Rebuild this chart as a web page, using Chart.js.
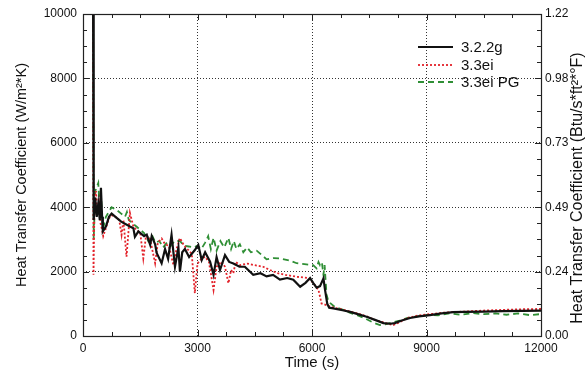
<!DOCTYPE html>
<html>
<head>
<meta charset="utf-8">
<script src="https://cdn.jsdelivr.net/npm/chart.js@4.4.1/dist/chart.umd.min.js"></script>
<style>
    html, body { margin: 0; padding: 0; background: #fff; }
    #wrap { width: 588px; height: 373px; }
</style>
</head>
<body>
<div id="wrap"><canvas id="htc-chart"></canvas></div>
<script>
// time (s) and heat transfer coefficient (W/m2*K)
const time322g = [265, 280, 320, 360, 400, 440, 470, 500, 520, 600, 680, 750, 850, 1000, 1230, 1320, 1360, 1450, 1600, 1670, 1760, 1800, 1890, 1930, 2060, 2150, 2230, 2320, 2410, 2500, 2540, 2600, 2670, 2780, 2930, 3020, 3110, 3200, 3330, 3420, 3500, 3590, 3720, 3830, 3940, 4100, 4240, 4460, 4650, 4810, 4980, 5160, 5350, 5510, 5690, 5830, 5950, 6030, 6120, 6210, 6300, 6340, 6400, 6450, 6560, 6800, 7000, 7200, 7430, 7650, 7870, 8050, 8170, 8350, 8570, 8800, 9090, 9400, 9700, 10000, 10500, 11000, 11500, 12000];
const htc322g = [10000, 3600, 4300, 3700, 4100, 3600, 4600, 3700, 3250, 3400, 3700, 3800, 3700, 3550, 3400, 3350, 3080, 3250, 3100, 3150, 2830, 3100, 2850, 2580, 2260, 2700, 2400, 3140, 2150, 2750, 2000, 2600, 2700, 2450, 2670, 2830, 2360, 2600, 2310, 1900, 2450, 2050, 2510, 2300, 2250, 2150, 2150, 1900, 1950, 1850, 1900, 1750, 1800, 1750, 1530, 1650, 1800, 1650, 1500, 1550, 1790, 1450, 1000, 880, 860, 800, 750, 680, 600, 500, 400, 380, 400, 480, 560, 610, 650, 700, 740, 750, 760, 770, 780, 790];

const time33ei = [265, 275, 300, 340, 380, 420, 460, 500, 530, 600, 680, 750, 850, 950, 1010, 1060, 1140, 1230, 1320, 1400, 1500, 1580, 1650, 1750, 1890, 1960, 2060, 2150, 2250, 2370, 2450, 2540, 2650, 2760, 2850, 2930, 3000, 3100, 3200, 3300, 3420, 3500, 3630, 3720, 3810, 3880, 3940, 4000, 4110, 4300, 4500, 4720, 4900, 5100, 5300, 5600, 5900, 6030, 6170, 6250, 6380, 6500, 6800, 7000, 7200, 7430, 7650, 7870, 8000, 8130, 8300, 8500, 8800, 9100, 9500, 10000, 10500, 11000, 11500, 12000];
const htc33ei = [10000, 1900, 4000, 4500, 3800, 4100, 3500, 3300, 3100, 3350, 3650, 3750, 3700, 3600, 3140, 3600, 2460, 3820, 3400, 3300, 3200, 2410, 3100, 3050, 2260, 2900, 3030, 2850, 2800, 2200, 2700, 3040, 2800, 2670, 2550, 1330, 2250, 2400, 2460, 2300, 1430, 2150, 2310, 2150, 1640, 2050, 1950, 2300, 2200, 2250, 2200, 2150, 2050, 1950, 1900, 1840, 1800, 1650, 1430, 1010, 960, 900, 820, 760, 700, 610, 500, 420, 380, 340, 430, 560, 640, 680, 730, 760, 790, 810, 830, 840];

const time33eiPG = [265, 280, 320, 400, 440, 480, 520, 600, 750, 900, 1000, 1100, 1150, 1200, 1300, 1400, 1500, 1600, 1710, 1800, 1900, 2000, 2100, 2200, 2300, 2400, 2540, 2650, 2770, 2900, 3000, 3100, 3200, 3280, 3350, 3420, 3500, 3600, 3700, 3810, 3880, 3950, 4020, 4110, 4200, 4300, 4400, 4550, 4700, 4810, 5000, 5160, 5400, 5600, 5800, 6030, 6120, 6170, 6210, 6260, 6300, 6330, 6380, 6430, 6600, 6800, 7000, 7200, 7400, 7600, 7780, 7950, 8100, 8300, 8500, 8800, 9100, 9300, 9600, 9900, 10200, 10500, 10800, 11100, 11400, 11700, 12000];
const htc33eiPG = [10000, 3000, 4500, 4750, 3900, 4200, 3300, 3700, 4000, 3900, 3800, 3700, 3850, 3600, 3500, 3400, 3300, 3200, 2950, 3150, 2900, 2950, 2750, 2900, 2800, 2950, 2950, 2800, 2780, 2750, 2800, 2700, 2900, 3100, 2700, 3050, 2650, 2950, 2750, 3050, 2700, 2950, 2700, 2850, 2600, 2750, 2600, 2650, 2500, 2380, 2420, 2410, 2350, 2260, 2230, 2200, 2100, 2300, 2200, 2280, 1900, 2200, 1300, 1070, 900, 820, 720, 640, 540, 420, 340, 370, 420, 480, 560, 620, 660, 640, 700, 660, 710, 680, 700, 660, 700, 650, 680];

const xTicks = [0, 3000, 6000, 9000, 12000];
const yTicks = [0, 2000, 4000, 6000, 8000, 10000];
const BTU_PER_W = 0.000122;   // right axis: 10000 W/m2K -> 1.22 Btu/s ft2 F

const seriesNames = ['3.2.2g', '3.3ei', '3.3ei PG'];

function toPoints(ts, vs) {
    return ts.map((t, i) => ({ x: t, y: vs[i] }));
}

const FONT = "'Liberation Sans', Arial, Helvetica, sans-serif";

// inward tick marks on all four sides, plus the box
const frameTicks = {
    id: 'frameTicks',
    afterDatasetsDraw(chart) {
        const { ctx, chartArea: a, scales } = chart;
        ctx.save();
        ctx.strokeStyle = '#222';
        ctx.lineWidth = 1;
        ctx.beginPath();
        for (let t = 0; t <= 12000; t += 750) {
            const px = Math.round(scales.x.getPixelForValue(t)) + 0.5;
            const len = t % 3000 === 0 ? 6 : 4;
            ctx.moveTo(px, a.bottom); ctx.lineTo(px, a.bottom - len);
            ctx.moveTo(px, a.top); ctx.lineTo(px, a.top + len);
        }
        for (let v = 0; v <= 10000; v += 500) {
            const py = Math.round(scales.y.getPixelForValue(v)) + 0.5;
            const len = v % 2000 === 0 ? 6 : 4;
            ctx.moveTo(a.left, py); ctx.lineTo(a.left + len, py);
            ctx.moveTo(a.right, py); ctx.lineTo(a.right - len, py);
        }
        ctx.stroke();
        ctx.lineWidth = 1.2;
        ctx.strokeRect(Math.round(a.left) + 0.5, Math.round(a.top) + 0.5,
            Math.round(a.right - a.left), Math.round(a.bottom - a.top));
        ctx.restore();
    }
};

// legend in the upper right of the plot, and the right axis title
const inLegend = {
    id: 'inLegend',
    afterDraw(chart) {
        const { ctx } = chart;
        ctx.save();
        const rows = [47, 65, 82];
        chart.data.datasets.forEach((ds, i) => {
            const y = rows[i];
            ctx.beginPath();
            ctx.strokeStyle = ds.borderColor;
            ctx.lineWidth = ds.borderWidth;
            ctx.setLineDash(ds.borderDash || []);
            ctx.moveTo(418, y); ctx.lineTo(453, y);
            ctx.stroke();
            ctx.setLineDash([]);
            ctx.fillStyle = '#111';
            ctx.font = '15px ' + FONT;
            ctx.textAlign = 'left';
            ctx.textBaseline = 'middle';
            ctx.fillText(ds.label, 461, y + 1);
        });

        ctx.translate(578, 188);
        ctx.rotate(-Math.PI / 2);
        ctx.font = '16px ' + FONT;
        ctx.textAlign = 'center';
        ctx.textBaseline = 'middle';
        ctx.fillStyle = '#111';
        ctx.fillText('Heat Transfer Coefficient (Btu/s*ft²*°F)', 0, 0);
        ctx.restore();
    }
};

const hideEdge = (c) => (c.tick && (c.tick.value === 0 || c.tick.value === 10000 || c.tick.value === 12000)) ? 'rgba(0,0,0,0)' : '#333';

new Chart(document.getElementById('htc-chart'), {
    type: 'line',
    data: {
        datasets: [
            {
                label: seriesNames[0],
                data: toPoints(time322g, htc322g),
                borderColor: '#111111',
                borderWidth: 2.2,
                pointRadius: 0,
                tension: 0
            },
            {
                label: seriesNames[1],
                data: toPoints(time33ei, htc33ei),
                borderColor: '#e3232b',
                borderWidth: 1.8,
                borderDash: [2, 2],
                pointRadius: 0,
                tension: 0
            },
            {
                label: seriesNames[2],
                data: toPoints(time33eiPG, htc33eiPG),
                borderColor: '#2f8f35',
                borderWidth: 1.8,
                borderDash: [6, 4],
                pointRadius: 0,
                tension: 0
            }
        ]
    },
    options: {
        responsive: true,
        maintainAspectRatio: false,
        animation: false,
        layout: { padding: { top: 14, left: 0, right: 0, bottom: 0 } },
        plugins: {
            legend: { display: false },
            tooltip: { enabled: false }
        },
        scales: {
            x: {
                type: 'linear',
                min: 0,
                max: 12000,
                afterBuildTicks: (s) => { s.ticks = xTicks.map(v => ({ value: v })); },
                ticks: { color: '#111', font: { family: FONT, size: 12 }, padding: 5, maxRotation: 0, callback: (v) => String(v) },
                grid: { color: hideEdge, lineWidth: 1, drawTicks: false },
                border: { display: false, dash: [1, 2] },
                title: { display: true, text: 'Time (s)', color: '#111', font: { family: FONT, size: 15 }, padding: { top: 0, bottom: 1 } },
                afterFit: (s) => { s.height = 37; }
            },
            y: {
                position: 'left',
                min: 0,
                max: 10000,
                afterBuildTicks: (s) => { s.ticks = yTicks.map(v => ({ value: v })); },
                ticks: { color: '#111', font: { family: FONT, size: 12 }, padding: 6, callback: (v) => String(v) },
                grid: { color: hideEdge, lineWidth: 1, drawTicks: false },
                border: { display: false, dash: [1, 2] },
                title: { display: true, text: 'Heat Transfer Coefficient (W/m²*K)', color: '#111', font: { family: FONT, size: 14.5 }, padding: { top: 13, bottom: 0 } },
                afterFit: (s) => { s.width = 83; }
            },
            y2: {
                position: 'right',
                min: 0,
                max: 10000,
                afterBuildTicks: (s) => { s.ticks = yTicks.map(v => ({ value: v })); },
                ticks: {
                    color: '#111',
                    font: { family: FONT, size: 12 },
                    padding: 4,
                    callback: (v) => (v * BTU_PER_W).toFixed(2)
                },
                grid: { display: false, drawTicks: false },
                border: { display: false },
                afterFit: (s) => { s.width = 47; }
            }
        }
    },
    plugins: [frameTicks, inLegend]
});
</script>
</body>
</html>
